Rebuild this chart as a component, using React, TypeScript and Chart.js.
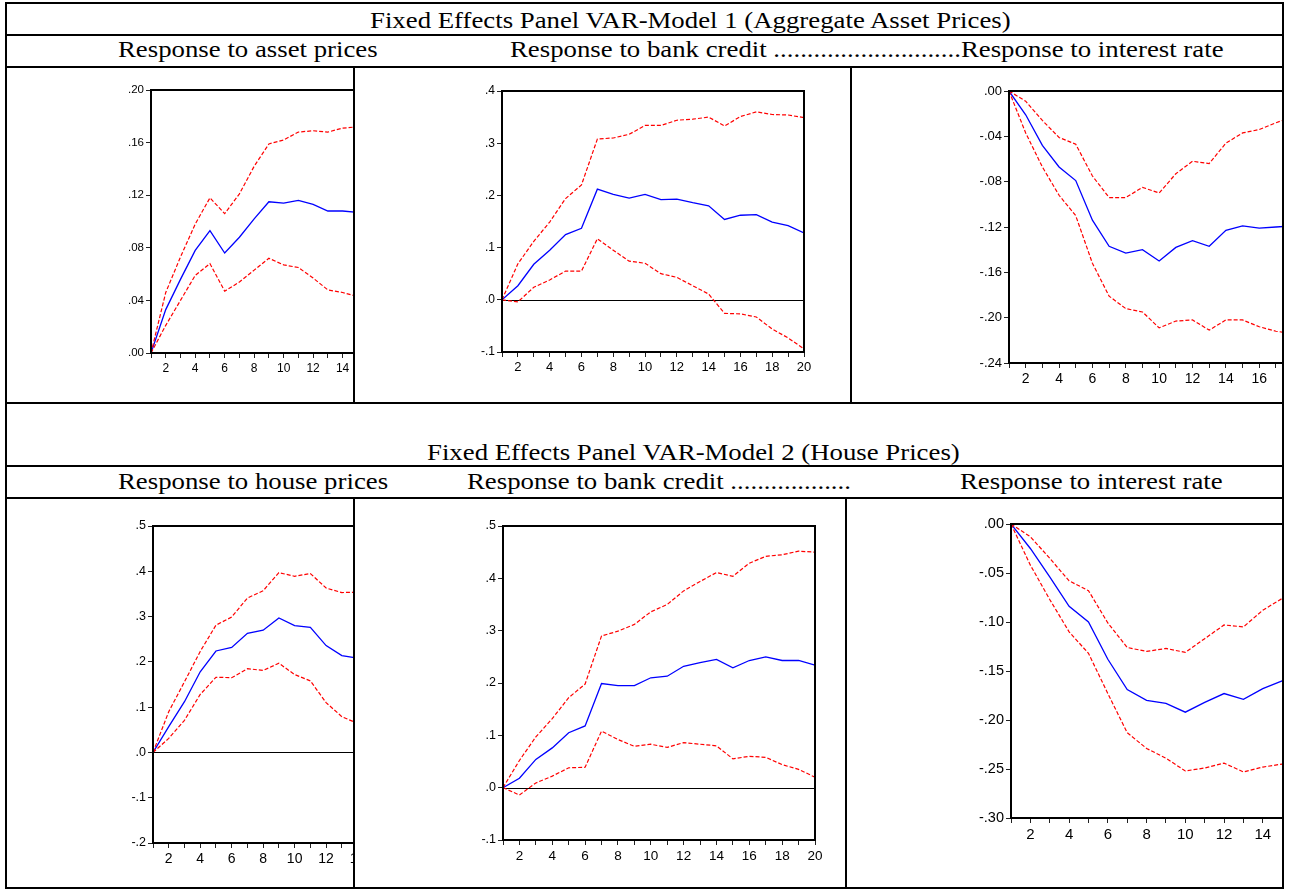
import React, { useEffect, useRef } from "react";
import { Chart, registerables } from "chart.js";

Chart.register(...registerables);

// ---------------- DATA ----------------
const periods = [1, 2, 3, 4, 5, 6, 7, 8, 9, 10, 11, 12, 13, 14, 15, 16, 17, 18, 19, 20];

const titles = [
  "Fixed Effects Panel VAR-Model 1 (Aggregate Asset Prices)",
  "Fixed Effects Panel VAR-Model 2 (House Prices)",
];
const row1Headers = [
  "Response to asset prices",
  "Response to bank credit ............................Response to interest rate",
];
const row2Headers = [
  "Response to house prices",
  "Response to bank credit ..................",
  "Response to interest rate",
];

// Model 1 – response to asset prices
const m1AssetMid = [0, 0.033, 0.056, 0.078, 0.093, 0.076, 0.088, 0.102, 0.115, 0.114, 0.116, 0.113, 0.108, 0.108, 0.107];
const m1AssetUp = [0, 0.046, 0.073, 0.098, 0.118, 0.106, 0.121, 0.142, 0.159, 0.162, 0.168, 0.169, 0.168, 0.171, 0.172];
const m1AssetLo = [0, 0.021, 0.04, 0.059, 0.068, 0.047, 0.054, 0.063, 0.072, 0.067, 0.065, 0.057, 0.048, 0.046, 0.043];

// Model 1 – response to bank credit
const m1CreditMid = [0, 0.027, 0.068, 0.095, 0.125, 0.137, 0.212, 0.202, 0.195, 0.202, 0.192, 0.193, 0.186, 0.18, 0.154, 0.162, 0.163, 0.149, 0.142, 0.128];
const m1CreditUp = [0, 0.069, 0.112, 0.149, 0.194, 0.22, 0.308, 0.31, 0.317, 0.334, 0.334, 0.344, 0.346, 0.35, 0.333, 0.351, 0.36, 0.355, 0.354, 0.349];
const m1CreditLo = [0, -0.004, 0.024, 0.038, 0.055, 0.055, 0.117, 0.095, 0.074, 0.07, 0.05, 0.043, 0.027, 0.011, -0.026, -0.027, -0.033, -0.056, -0.073, -0.094];

// Model 1 – response to interest rate
const m1RateMid = [0, -0.021, -0.048, -0.067, -0.079, -0.114, -0.137, -0.143, -0.14, -0.15, -0.138, -0.132, -0.137, -0.123, -0.119, -0.121, -0.12, -0.119];
const m1RateUp = [0, -0.009, -0.026, -0.041, -0.047, -0.075, -0.094, -0.094, -0.085, -0.09, -0.073, -0.062, -0.064, -0.046, -0.037, -0.034, -0.028, -0.023];
const m1RateLo = [0, -0.037, -0.067, -0.092, -0.11, -0.152, -0.181, -0.192, -0.195, -0.209, -0.203, -0.202, -0.211, -0.202, -0.202, -0.208, -0.212, -0.214];

// Model 2 – response to house prices
const m2HouseMid = [0, 0.057, 0.112, 0.178, 0.224, 0.232, 0.263, 0.27, 0.297, 0.28, 0.276, 0.236, 0.214, 0.208];
const m2HouseUp = [0, 0.09, 0.156, 0.223, 0.281, 0.299, 0.341, 0.357, 0.397, 0.389, 0.395, 0.363, 0.353, 0.354];
const m2HouseLo = [0, 0.031, 0.071, 0.128, 0.166, 0.165, 0.185, 0.181, 0.197, 0.172, 0.158, 0.11, 0.079, 0.064];

// Model 2 – response to bank credit
const m2CreditMid = [0, 0.018, 0.054, 0.076, 0.105, 0.118, 0.199, 0.195, 0.195, 0.21, 0.213, 0.232, 0.239, 0.245, 0.229, 0.243, 0.25, 0.243, 0.243, 0.234];
const m2CreditUp = [0, 0.052, 0.097, 0.132, 0.172, 0.198, 0.29, 0.299, 0.312, 0.336, 0.35, 0.376, 0.394, 0.411, 0.404, 0.429, 0.442, 0.445, 0.452, 0.45];
const m2CreditLo = [0, -0.014, 0.009, 0.022, 0.038, 0.039, 0.108, 0.092, 0.079, 0.083, 0.077, 0.086, 0.083, 0.08, 0.055, 0.06, 0.058, 0.044, 0.035, 0.02];

// Model 2 – response to interest rate
const m2RateMid = [0, -0.025, -0.054, -0.084, -0.1, -0.138, -0.169, -0.18, -0.183, -0.192, -0.182, -0.173, -0.179, -0.168, -0.16];
const m2RateUp = [0, -0.013, -0.035, -0.058, -0.068, -0.101, -0.126, -0.13, -0.127, -0.131, -0.117, -0.103, -0.105, -0.088, -0.076];
const m2RateLo = [0, -0.042, -0.077, -0.11, -0.132, -0.173, -0.213, -0.229, -0.239, -0.252, -0.249, -0.244, -0.253, -0.248, -0.245];

// y-axis ranges: [min, max, step, decimals]
const yM1Asset = [0, 0.2, 0.04, 2];
const yM1Credit = [-0.1, 0.4, 0.1, 1];
const yM1Rate = [-0.24, 0, 0.04, 2];
const yM2House = [-0.2, 0.5, 0.1, 1];
const yM2Credit = [-0.1, 0.5, 0.1, 1];
const yM2Rate = [-0.3, 0, 0.05, 2];

// ---------------- LAYOUT ----------------
type Rect = { x: number; y: number; w: number; h: number };
type Spec = {
  clip: Rect;
  L: number; T: number; R: number; B: number;
  mid: number[]; up: number[]; lo: number[];
  y: number[];
  zero: boolean;
  fx: number; fy: number;
};

const Y_W = 45;
const PAD_T = 10;
const PAD_R = 12;
const X_H = 30;

const specs: Spec[] = [
  { clip: { x: 7, y: 68, w: 346, h: 334 }, L: 151, T: 90, R: 431, B: 353, mid: m1AssetMid, up: m1AssetUp, lo: m1AssetLo, y: yM1Asset, zero: false, fx: 12, fy: 11.5 },
  { clip: { x: 355, y: 68, w: 495, h: 334 }, L: 502, T: 91, R: 804, B: 352, mid: m1CreditMid, up: m1CreditUp, lo: m1CreditLo, y: yM1Credit, zero: true, fx: 13, fy: 12 },
  { clip: { x: 852, y: 68, w: 430, h: 334 }, L: 1009, T: 91, R: 1326, B: 363, mid: m1RateMid, up: m1RateUp, lo: m1RateLo, y: yM1Rate, zero: false, fx: 14, fy: 13 },
  { clip: { x: 7, y: 499, w: 346, h: 388 }, L: 153, T: 526, R: 452, B: 843, mid: m2HouseMid, up: m2HouseUp, lo: m2HouseLo, y: yM2House, zero: true, fx: 14, fy: 12.5 },
  { clip: { x: 355, y: 499, w: 490, h: 388 }, L: 503, T: 526, R: 815, B: 840, mid: m2CreditMid, up: m2CreditUp, lo: m2CreditLo, y: yM2Credit, zero: true, fx: 13.5, fy: 12.5 },
  { clip: { x: 847, y: 499, w: 435, h: 388 }, L: 1011, T: 524, R: 1379, B: 818, mid: m2RateMid, up: m2RateUp, lo: m2RateLo, y: yM2Rate, zero: false, fx: 15, fy: 14.5 },
];

const rules: number[][] = [
  [5, 2, 1279, 2],
  [5, 2, 2, 887],
  [1282, 2, 2, 887],
  [5, 887, 1279, 2],
  [5, 34, 1279, 2],
  [5, 66, 1279, 2],
  [5, 402, 1279, 2],
  [5, 465, 1279, 2],
  [5, 497, 1279, 2],
  [353, 66, 2, 337],
  [850, 66, 2, 337],
  [353, 497, 2, 391],
  [845, 497, 2, 391],
];

const texts = [
  { t: titles[0], x: 370, b: 28.5 },
  { t: row1Headers[0], x: 117.5, b: 57.5 },
  { t: row1Headers[1], x: 510, b: 57.5 },
  { t: titles[1], x: 427, b: 461 },
  { t: row2Headers[0], x: 117.5, b: 490 },
  { t: row2Headers[1], x: 467, b: 490 },
  { t: row2Headers[2], x: 960, b: 490 },
];

const fmt = (v: number, d: number) => {
  if (Math.abs(v) < 1e-9) v = 0;
  return v.toFixed(d).replace(/^(-?)0\./, "$1.");
};

const framePlugin = {
  id: "irfFrame",
  beforeDatasetsDraw(chart: any, _a: any, opts: any) {
    if (!opts || !opts.zero) return;
    const { ctx, chartArea: a, scales } = chart;
    const y = Math.round(scales.y.getPixelForValue(0)) + 0.5;
    ctx.save();
    ctx.strokeStyle = "#000";
    ctx.lineWidth = 1;
    ctx.beginPath();
    ctx.moveTo(a.left, y);
    ctx.lineTo(a.right, y);
    ctx.stroke();
    ctx.restore();
  },
  afterDatasetsDraw(chart: any) {
    const { ctx, chartArea: a } = chart;
    ctx.save();
    ctx.strokeStyle = "#000";
    ctx.lineWidth = 2;
    ctx.strokeRect(a.left, a.top, a.right - a.left, a.bottom - a.top);
    ctx.restore();
  },
};

function IRFChart({ spec }: { spec: Spec }) {
  const ref = useRef<HTMLCanvasElement>(null);
  const plotW = spec.R - spec.L;
  const plotH = spec.B - spec.T;
  const cw = Y_W + plotW + PAD_R;
  const ch = PAD_T + plotH + X_H;
  const left = spec.L - Y_W - spec.clip.x;
  const top = spec.T - PAD_T - spec.clip.y;

  useEffect(() => {
    if (!ref.current) return;
    const pts = (arr: number[]) => arr.map((v, i) => ({ x: periods[i], y: v }));
    const [ymin, ymax, ystep, ydec] = spec.y;
    const chart = new Chart(ref.current, {
      type: "line",
      data: {
        datasets: [
          { data: pts(spec.up), borderColor: "#ff0000", borderWidth: 1.2, borderDash: [4, 2], pointRadius: 0, tension: 0, fill: false },
          { data: pts(spec.lo), borderColor: "#ff0000", borderWidth: 1.2, borderDash: [4, 2], pointRadius: 0, tension: 0, fill: false },
          { data: pts(spec.mid), borderColor: "#0000ff", borderWidth: 1.3, pointRadius: 0, tension: 0, fill: false },
        ],
      },
      options: {
        responsive: false,
        animation: false,
        events: [],
        layout: { padding: { top: PAD_T, right: PAD_R, left: 0, bottom: 0 } },
        plugins: {
          legend: { display: false },
          tooltip: { enabled: false },
          irfFrame: { zero: spec.zero },
        } as any,
        scales: {
          x: {
            type: "linear",
            min: periods[0],
            max: periods[periods.length - 1],
            border: { display: false },
            grid: { drawOnChartArea: false, drawTicks: true, tickLength: 5, color: "#222", lineWidth: 1 },
            ticks: {
              stepSize: 1,
              autoSkip: false,
              maxRotation: 0,
              padding: 3,
              color: "#000",
              font: { family: "'Liberation Sans', Arial, sans-serif", size: spec.fx },
              callback: (v: any) => (Number(v) % 2 === 0 ? String(v) : ""),
            },
            afterFit: (s: any) => {
              s.height = X_H;
              s.paddingLeft = 0;
              s.paddingRight = 0;
            },
          },
          y: {
            type: "linear",
            min: ymin,
            max: ymax,
            border: { display: false },
            grid: { drawOnChartArea: false, drawTicks: true, tickLength: 5, color: "#222", lineWidth: 1 },
            ticks: {
              stepSize: ystep,
              autoSkip: false,
              padding: 2,
              color: "#000",
              font: { family: "'Liberation Sans', Arial, sans-serif", size: spec.fy },
              callback: (v: any) => fmt(Number(v), ydec),
            },
            afterFit: (s: any) => {
              s.width = Y_W;
              s.paddingTop = 0;
              s.paddingBottom = 0;
            },
          },
        },
      },
      plugins: [framePlugin],
    } as any);
    return () => chart.destroy();
  }, [spec]);

  return (
    <canvas
      ref={ref}
      width={cw}
      height={ch}
      style={{ position: "absolute", left, top, width: cw + "px", height: ch + "px" }}
    />
  );
}

const TEXT_SIZE = 23.5;
const TEXT_SCALE = 1.14;

export default function App() {
  return (
    <div style={{ position: "absolute", left: 0, top: 0, width: 1289, height: 890, background: "#fff" }}>
      {specs.map((s, i) => (
        <div
          key={"c" + i}
          style={{ position: "absolute", left: s.clip.x, top: s.clip.y, width: s.clip.w, height: s.clip.h, overflow: "hidden" }}
        >
          <IRFChart spec={s} />
        </div>
      ))}
      {texts.map((t, i) => (
        <div
          key={"t" + i}
          style={{
            position: "absolute",
            left: t.x,
            top: t.b - 19.7,
            fontFamily: "'Liberation Serif', 'Times New Roman', serif",
            fontSize: TEXT_SIZE,
            lineHeight: TEXT_SIZE + "px",
            whiteSpace: "pre",
            transform: `scaleX(${TEXT_SCALE})`,
            transformOrigin: "0 0",
            color: "#000",
          }}
        >
          {t.t}
        </div>
      ))}
      {rules.map((r, i) => (
        <div key={"r" + i} style={{ position: "absolute", left: r[0], top: r[1], width: r[2], height: r[3], background: "#000" }} />
      ))}
    </div>
  );
}
